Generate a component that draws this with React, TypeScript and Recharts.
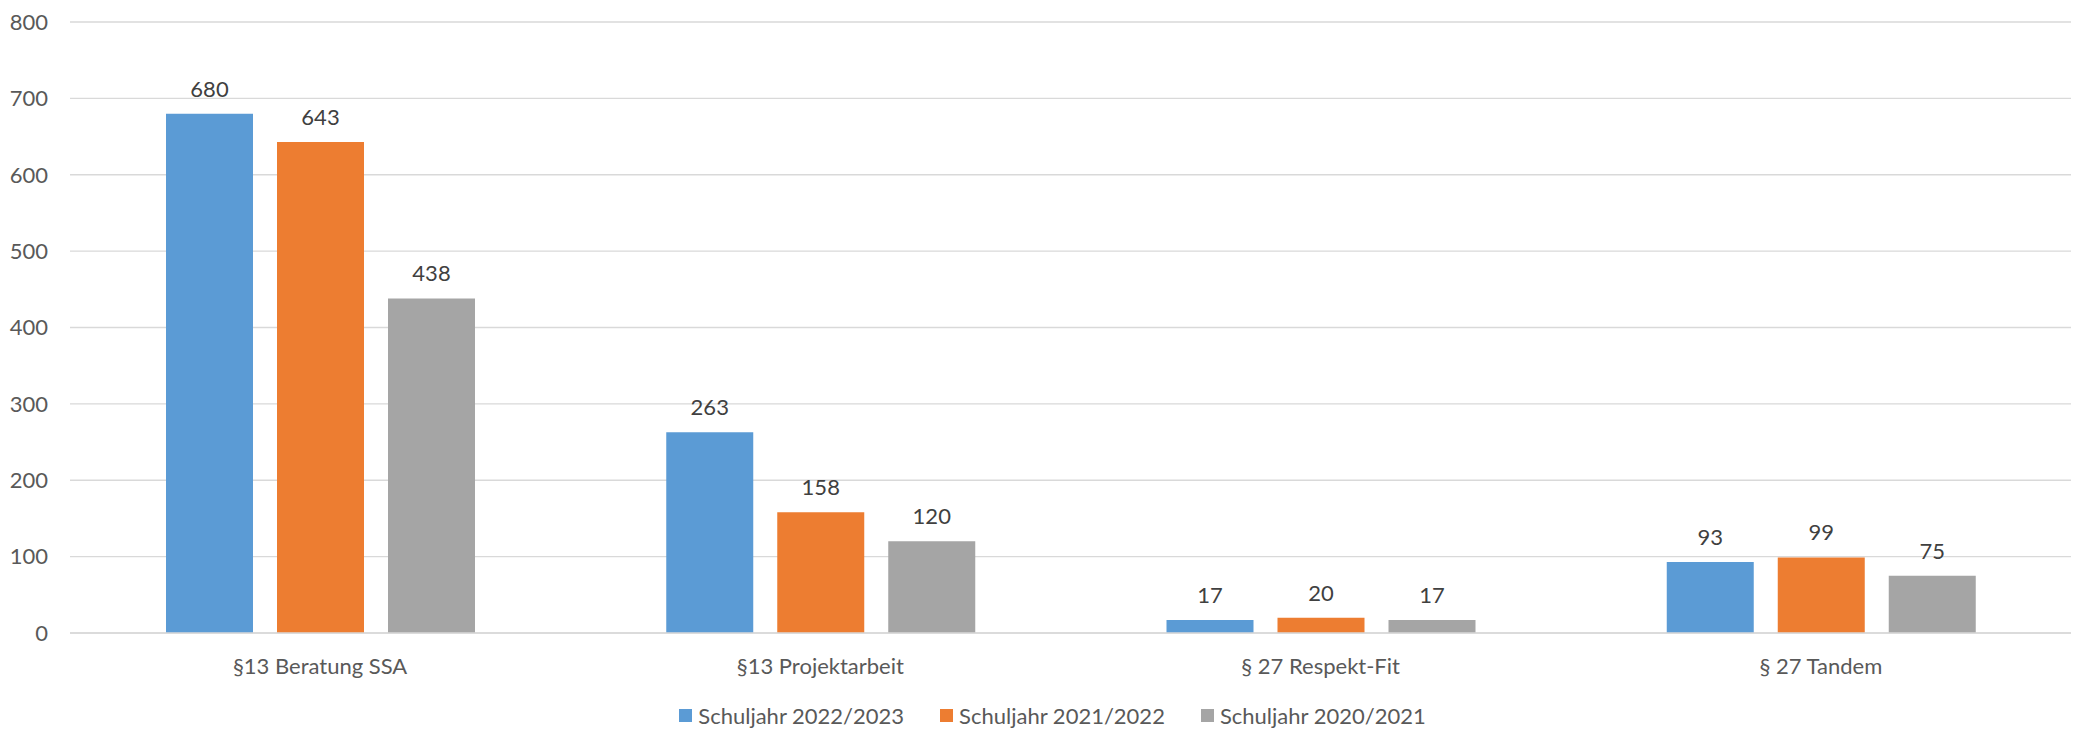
import { Bar, BarChart, CartesianGrid, LabelList, Legend, XAxis, YAxis } from "recharts";

const categories = ["§13 Beratung SSA", "§13 Projektarbeit", "§ 27 Respekt-Fit", "§ 27 Tandem"];
const schuljahr2223 = [680, 263, 17, 93];
const schuljahr2122 = [643, 158, 20, 99];
const schuljahr2021 = [438, 120, 17, 75];
const yTicks = [0, 100, 200, 300, 400, 500, 600, 700, 800];

const series = [
  { key: "s2223", name: "Schuljahr 2022/2023", color: "#5B9BD5", values: schuljahr2223 },
  { key: "s2122", name: "Schuljahr 2021/2022", color: "#ED7D31", values: schuljahr2122 },
  { key: "s2021", name: "Schuljahr 2020/2021", color: "#A5A5A5", values: schuljahr2021 },
];

const rows = categories.map((c, i) => {
  const row: Record<string, string | number> = { name: c };
  series.forEach((s) => {
    row[s.key] = s.values[i];
  });
  return row;
});

const FONT = "Lato, 'Open Sans', sans-serif";
const TEXT = "#595959";
const FS = 22;

function ChartLegend() {
  return (
    <div
      style={{
        height: 36,
        boxSizing: "border-box",
        paddingTop: 8,
        paddingLeft: 34,
        display: "flex",
        justifyContent: "center",
        alignItems: "center",
        fontFamily: FONT,
        fontSize: FS,
        color: TEXT,
      }}
    >
      {series.map((s, i) => (
        <span key={s.key} style={{ display: "flex", alignItems: "center", marginLeft: i === 0 ? 0 : 36 }}>
          <span style={{ width: 13, height: 13, background: s.color, marginRight: 6, display: "inline-block" }} />
          {s.name}
        </span>
      ))}
    </div>
  );
}

export default function App() {
  return (
    <div style={{ position: "absolute", left: 0, top: 0, width: 2078, height: 729, background: "#fff" }}>
      <BarChart
        width={2078}
        height={729}
        data={rows}
        margin={{ top: 22, right: 7, bottom: 0, left: 0 }}
        barSize={87}
        barGap={24}
      >
        <CartesianGrid vertical={false} stroke="#d9d9d9" strokeWidth={1.3} />
        <XAxis
          dataKey="name"
          height={60}
          tickLine={false}
          tickSize={0}
          tickMargin={25}
          axisLine={{ stroke: "#d9d9d9", strokeWidth: 1.3 }}
          tick={{ fill: TEXT, fontSize: FS, fontFamily: FONT }}
        />
        <YAxis
          width={70}
          domain={[0, 800]}
          ticks={yTicks}
          axisLine={false}
          tickLine={false}
          tickSize={0}
          tickMargin={22}
          tick={{ fill: TEXT, fontSize: FS, fontFamily: FONT }}
        />
        <Legend verticalAlign="bottom" content={() => <ChartLegend />} />
        {series.map((s) => (
          <Bar key={s.key} dataKey={s.key} name={s.name} fill={s.color} isAnimationActive={false}>
            <LabelList
              dataKey={s.key}
              position="top"
              offset={17}
              style={{ fill: "#404040", fontSize: FS, fontFamily: FONT }}
            />
          </Bar>
        ))}
      </BarChart>
    </div>
  );
}
